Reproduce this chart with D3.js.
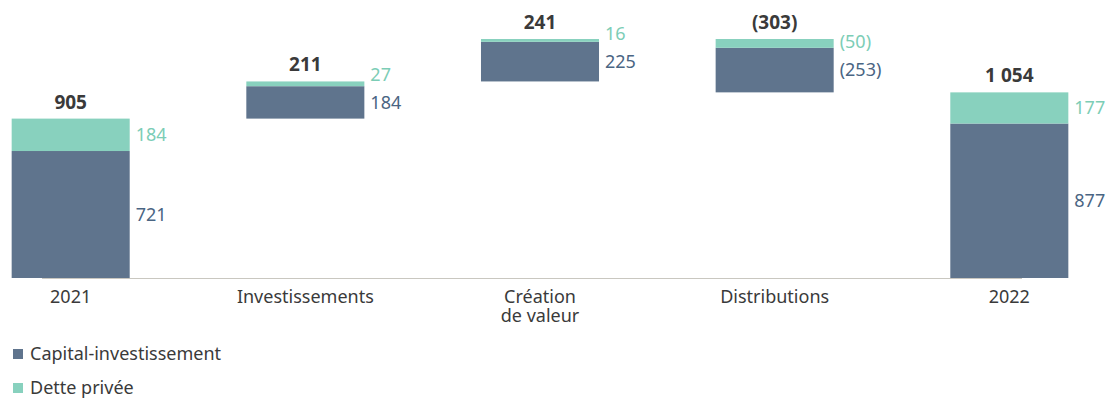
<!DOCTYPE html>
<html>
<head>
<meta charset="utf-8">
<script src="https://cdn.jsdelivr.net/npm/d3@7"></script>
<style>
  body { margin: 0; background: #fff; }
  svg text { font-family: "Noto Sans", sans-serif; }
</style>
</head>
<body>
<div id="chart"></div>
<script>
var categories = ["2021", "Investissements", "Création\nde valeur", "Distributions", "2022"];
var kinds = ["total", "delta", "delta", "delta", "total"];
var capital = [721, 184, 225, -253, 877];
var dette = [184, 27, 16, -50, 177];
var totalLabels = ["905", "211", "241", "(303)", "1 054"];
var capitalLabels = ["721", "184", "225", "(253)", "877"];
var detteLabels = ["184", "27", "16", "(50)", "177"];
var legendItems = ["Capital-investissement", "Dette privée"];

var width = 1107,
    height = 401;

var colCapital = "#5f748d",
    colDette = "#88d1be",
    txtCapital = "#4a6583",
    txtDette = "#7ccdb6";

var svg = d3.select("#chart").append("svg")
    .attr("width", width)
    .attr("height", height);

var x = d3.scaleBand()
    .domain(categories)
    .range([-47, 1127])
    .paddingInner(0.497)
    .paddingOuter(0.25);

// running level for the waterfall; on the way down the debt part goes first
var bars = [], level = 0;
categories.forEach(function(c, i) {
    var base = kinds[i] == "total" ? 0 : level;
    var b;
    if (capital[i] >= 0) {
        var capTop = base + capital[i];
        b = {cap: [base, capTop], det: [capTop, capTop + dette[i]]};
    } else {
        var detEnd = base + dette[i];
        b = {det: [detEnd, base], cap: [detEnd + capital[i], detEnd]};
    }
    b.cat = c; b.i = i;
    b.hi = Math.max(b.cap[1], b.det[1]);
    bars.push(b);
    level = base + capital[i] + dette[i];
});

var y = d3.scaleLinear()
    .domain([0, d3.max(bars, function(d) { return d.hi; })])
    .range([278, 39]);

// baseline
svg.append("line")
    .attr("x1", 42).attr("x2", 1022)
    .attr("y1", 278.5).attr("y2", 278.5)
    .attr("stroke", "#c9c7c0")
    .attr("stroke-width", 1);

var g = svg.selectAll("g.bar").data(bars).enter().append("g").attr("class", "bar");

g.append("rect")
    .attr("x", function(d) { return x(d.cat); })
    .attr("width", x.bandwidth())
    .attr("y", function(d) { return y(d.cap[1]); })
    .attr("height", function(d) { return y(d.cap[0]) - y(d.cap[1]); })
    .attr("fill", colCapital);

g.append("rect")
    .attr("x", function(d) { return x(d.cat); })
    .attr("width", x.bandwidth())
    .attr("y", function(d) { return y(d.det[1]); })
    .attr("height", function(d) { return y(d.det[0]) - y(d.det[1]); })
    .attr("fill", colDette);

// segment labels, debt label pushed up when too close
g.each(function(d) {
    var sel = d3.select(this);
    var cy = (y(d.cap[0]) + y(d.cap[1])) / 2;
    var dy = (y(d.det[0]) + y(d.det[1])) / 2;
    if (cy - dy < 28) dy = cy - 28;
    var lx = x(d.cat) + x.bandwidth() + 6;
    sel.append("text")
        .attr("x", lx).attr("y", cy)
        .attr("dy", "0.35em")
        .attr("font-size", 18)
        .attr("fill", txtCapital)
        .text(capitalLabels[d.i]);
    sel.append("text")
        .attr("x", lx).attr("y", dy)
        .attr("dy", "0.35em")
        .attr("font-size", 18)
        .attr("fill", txtDette)
        .text(detteLabels[d.i]);
    sel.append("text")
        .attr("x", x(d.cat) + x.bandwidth() / 2)
        .attr("y", y(d.hi) - 10)
        .attr("text-anchor", "middle")
        .attr("font-size", 19)
        .attr("font-weight", "bold")
        .attr("fill", "#3a3a3a")
        .text(totalLabels[d.i]);
});

// category labels, one text per line
categories.forEach(function(c) {
    c.split("\n").forEach(function(line, k) {
        svg.append("text")
            .attr("x", x(c) + x.bandwidth() / 2)
            .attr("y", 303 + k * 19)
            .attr("text-anchor", "middle")
            .attr("font-size", 18)
            .attr("fill", "#3a3a3a")
            .text(line);
    });
});

// legend
var leg = svg.selectAll("g.leg").data(legendItems).enter().append("g")
    .attr("class", "leg")
    .attr("transform", function(d, i) { return "translate(13," + (349 + i * 34) + ")"; });
leg.append("rect")
    .attr("width", 10).attr("height", 10)
    .attr("fill", function(d, i) { return i ? colDette : colCapital; });
leg.append("text")
    .attr("x", 17).attr("y", 5)
    .attr("dy", "0.35em")
    .attr("font-size", 18)
    .attr("fill", "#3a3a3a")
    .text(function(d) { return d; });
</script>
</body>
</html>
